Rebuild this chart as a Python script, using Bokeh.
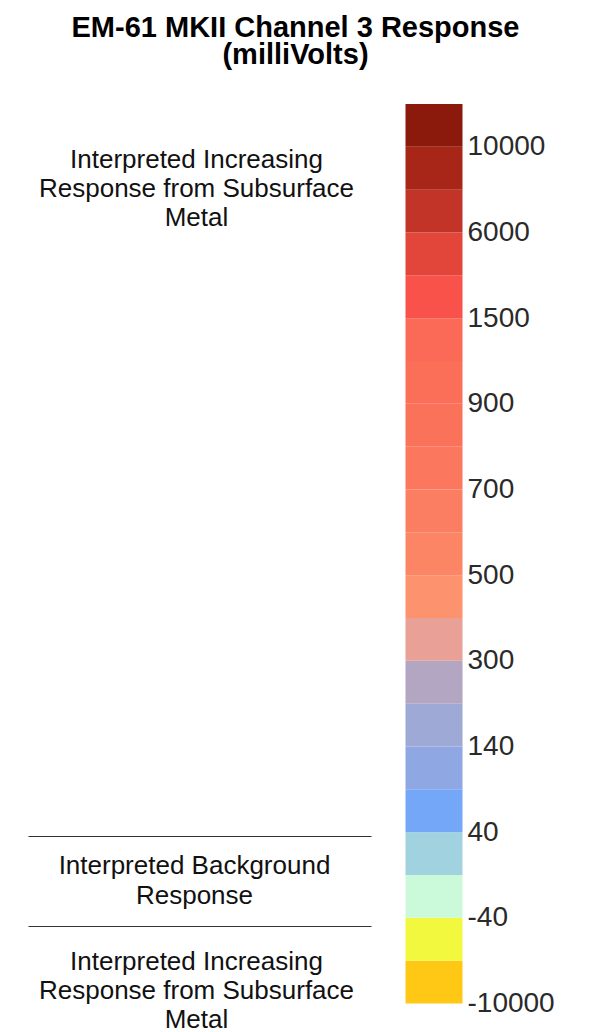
from bokeh.plotting import figure
from bokeh.models import Range1d, ColumnDataSource
from bokeh.core.properties import value
from bokeh.embed import file_html
from bokeh.resources import INLINE

# ---- data ----
title_lines = ["EM-61 MKII Channel 3 Response", "(milliVolts)"]
# colour bands, top to bottom
band_colors = [
    "#8B1A0C", "#A82618", "#C23428", "#E2463A", "#F8524A", "#FA6A56", "#FB6E58",
    "#FB725B", "#FB775E", "#FC7E62", "#FC8566", "#FC936E", "#E8A097", "#B2A6C2",
    "#9EA9D6", "#8FA8E3", "#74A7F7", "#A0D3DF", "#CBFADA", "#F1F83E", "#FFC815",
]
# tick labels, top to bottom (every second band boundary)
tick_labels = ["10000", "6000", "1500", "900", "700", "500", "300", "140", "40", "-40", "-10000"]
upper_text = ["Interpreted Increasing", "Response from Subsurface", "Metal"]
middle_text = ["Interpreted Background", "Response"]
lower_text = ["Interpreted Increasing", "Response from Subsurface", "Metal"]

# ---- layout ----
W, H = 601, 1032
BAR_TOP, BAR_BOT = 103.5, 1003.0
n = len(band_colors)
unit = (BAR_BOT - BAR_TOP) / n


def py(px):
    """pixel row -> data y (band boundaries are integers)"""
    return (BAR_BOT - px) / unit


p = figure(width=W, height=H, output_backend="svg", toolbar_location=None,
           x_range=Range1d(0, W), y_range=Range1d(py(H), py(0)),
           x_axis_location=None, y_axis_location=None,
           min_border=0, min_border_left=0, min_border_right=0,
           min_border_top=0, min_border_bottom=0)
p.grid.visible = False
p.outline_line_color = None
p.background_fill_color = "white"
p.border_fill_color = "white"

# colour bar
bottoms = list(range(n))
src = ColumnDataSource(dict(bottom=bottoms, top=[b + 1 for b in bottoms],
                            color=band_colors[::-1]))
p.quad(left=405, right=462, bottom="bottom", top="top", fill_color="color",
       line_color=None, source=src)

# tick labels at every second boundary (top boundary index n-1, down to 0)
tick_y = [n - 1 - 2 * k for k in range(len(tick_labels))]
p.text(x=[467] * len(tick_labels), y=tick_y, text=tick_labels,
       text_font=value("Liberation Sans"), text_font_size="28px",
       text_color="#2a2a2a", text_align="left", text_baseline="middle", y_offset=-1)

# title
p.text(x=[295, 295], y=[py(26), py(53)], text=title_lines,
       text_font=value("Liberation Sans"), text_font_style="bold",
       text_font_size="29px", text_color="black",
       text_align="center", text_baseline="middle")

font_kw = dict(text_font=value("Liberation Sans"), text_font_size="26px",
               text_color="#111111", text_align="center", text_baseline="middle")
p.text(x=[196] * 3, y=[py(158), py(187), py(216)], text=upper_text, **font_kw)
p.text(x=[194] * 2, y=[py(864), py(894)], text=middle_text, **font_kw)
p.text(x=[196] * 3, y=[py(960), py(989), py(1018)], text=lower_text, **font_kw)

# separator lines
p.segment(x0=[28, 28], x1=[371, 371], y0=[py(836), py(926)], y1=[py(836), py(926)],
          line_color="#333333", line_width=1)

open("out.html", "w").write(file_html(p, INLINE))
